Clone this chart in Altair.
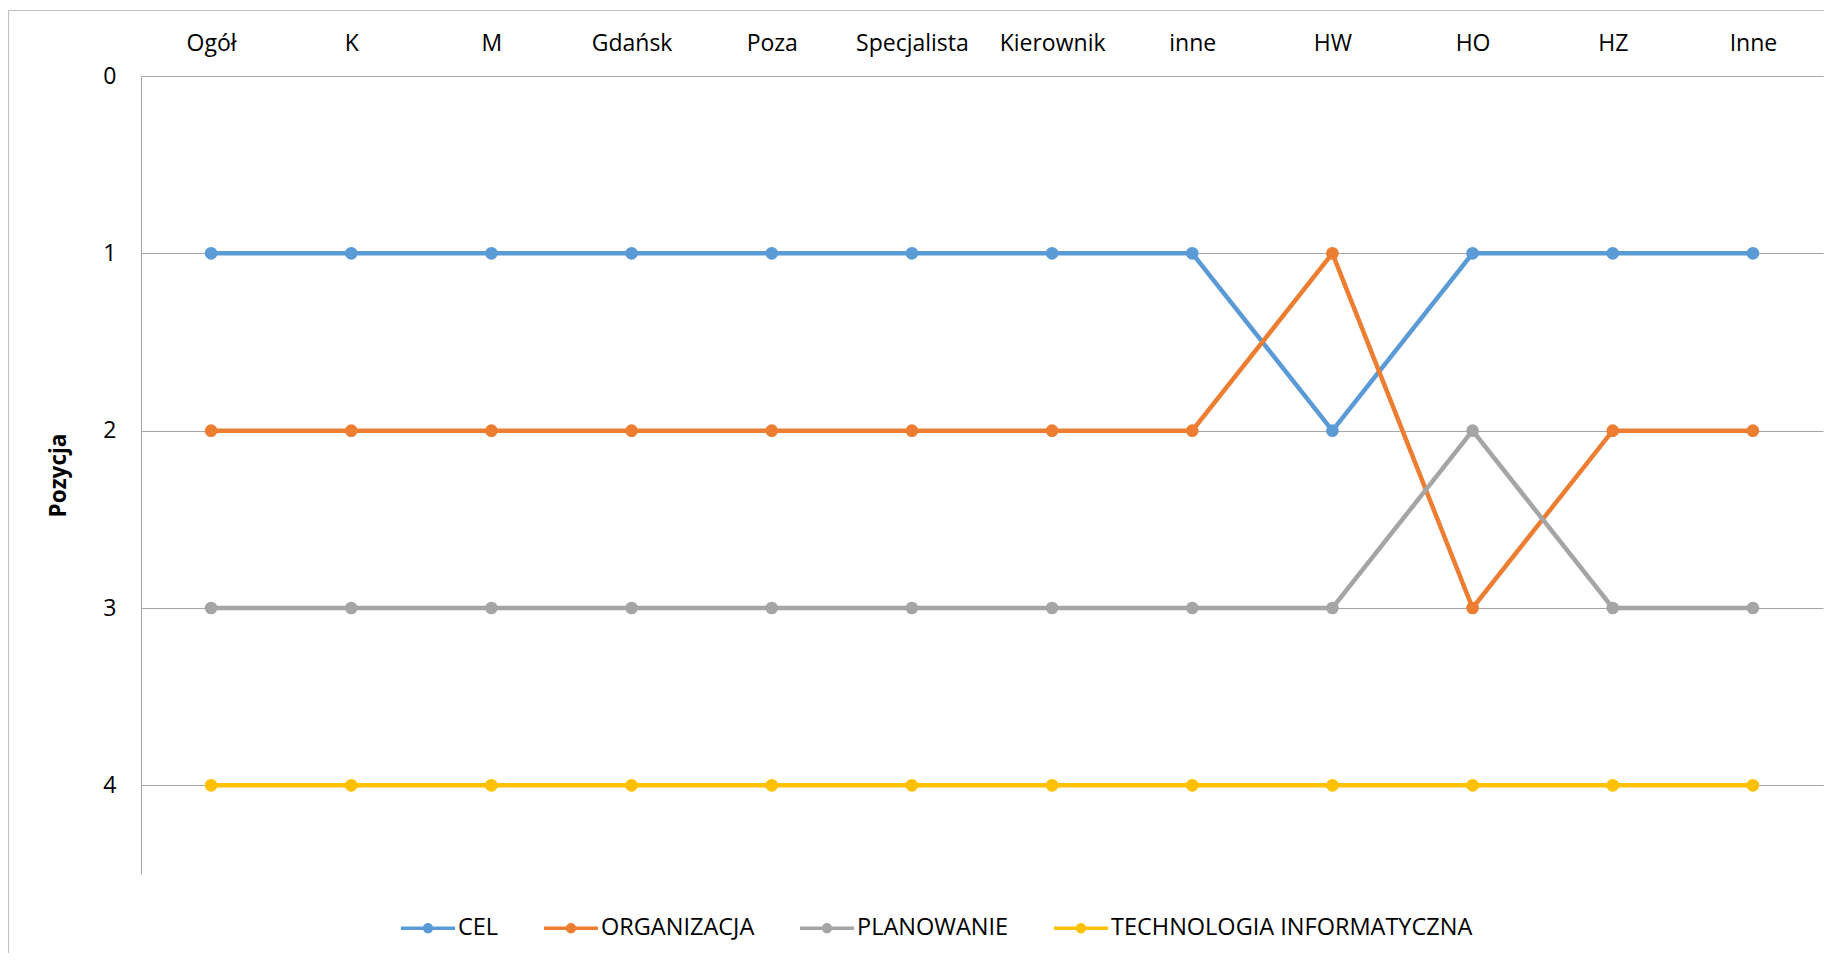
import altair as alt
import pandas as pd

categories = ["Ogół", "K", "M", "Gdańsk", "Poza", "Specjalista", "Kierownik",
              "inne", "HW", "HO", "HZ", "Inne"]
series = ["CEL", "ORGANIZACJA", "PLANOWANIE", "TECHNOLOGIA INFORMATYCZNA"]
cel = [1, 1, 1, 1, 1, 1, 1, 1, 2, 1, 1, 1]
organizacja = [2, 2, 2, 2, 2, 2, 2, 2, 1, 3, 2, 2]
planowanie = [3, 3, 3, 3, 3, 3, 3, 3, 3, 2, 3, 3]
technologia = [4, 4, 4, 4, 4, 4, 4, 4, 4, 4, 4, 4]
colors = ["#5B9BD5", "#ED7D31", "#A5A5A5", "#FFC000"]
y_ticks = [0, 1, 2, 3, 4]

rows = []
for name, vals in zip(series, [cel, organizacja, planowanie, technologia]):
    for i, (c, v) in enumerate(zip(categories, vals)):
        rows.append({"seria": name, "kategoria": c, "pozycja": v, "idx": i})
df = pd.DataFrame(rows)

FONT = "Open Sans"
GRID = "#A6A6A6"

x_enc = alt.X(
    "kategoria:N",
    sort=categories,
    scale=alt.Scale(type="point", domain=categories, padding=0.5),
    axis=alt.Axis(orient="top", labelAngle=0, ticks=False, tickSize=0, domain=False,
                  grid=False, labelFontSize=23, labelPadding=26,
                  labelBaseline="alphabetic", labelColor="#000000", labelFont=FONT),
    title=None,
)
y_enc = alt.Y(
    "pozycja:Q",
    scale=alt.Scale(domain=[0, 4.5], reverse=True, nice=False, zero=False),
    axis=alt.Axis(values=y_ticks, ticks=False, tickSize=0, domain=True,
                  domainColor=GRID, domainWidth=1, grid=True, gridColor=GRID,
                  gridWidth=1.2, labelFontSize=23, labelPadding=25,
                  labelColor="#000000", labelFont=FONT,
                  title="Pozycja", titleFontSize=22.5, titleFontWeight="bold",
                  titleFont=FONT, titleColor="#000000", titleAngle=270,
                  titleBaseline="alphabetic", titleX=-76, titleY=399),
)

legend_path = ("M-1,-0.065H1V0.065H-1Z "
               "M0.19,0A0.19,0.19,0,1,1,-0.19,0A0.19,0.19,0,1,1,0.19,0Z")
legend = alt.Legend(orient="none", legendX=260, legendY=825,
                    direction="horizontal", columns=4, title=None,
                    symbolType=legend_path, symbolSize=2916,
                    symbolStrokeWidth=0, symbolOpacity=1,
                    labelFontSize=23.5, labelFont=FONT, labelColor="#000000",
                    labelOffset=3, columnPadding=45, padding=0,
                    labelLimit=1000)
color_enc = alt.Color("seria:N", scale=alt.Scale(domain=series, range=colors),
                      legend=legend)

border = alt.Chart(alt.Data(values=[{"a": 1}])).mark_rect(
    fillOpacity=0, stroke="#BFBFBF", strokeWidth=1
).encode(
    x=alt.value(-132.5), x2=alt.value(1700),
    y=alt.value(-65.5), y2=alt.value(900),
)

lines = alt.Chart(df).mark_line(strokeWidth=4.5).encode(
    x=x_enc,
    y=y_enc,
    color=color_enc,
    order=alt.Order("idx:Q"),
)

points = alt.Chart(df).mark_circle(size=160, opacity=1).encode(
    x=x_enc,
    y=y_enc,
    color=color_enc,
)

chart = alt.layer(border, lines, points).properties(
    width=1682,
    height=798,
    autosize=alt.AutoSizeParams(type="none"),
    padding={"left": 133, "top": 68, "right": 1, "bottom": 79},
).configure(font=FONT).configure_view(stroke="transparent")

chart.save("out.html", embed_options={"renderer": "svg", "actions": False})
